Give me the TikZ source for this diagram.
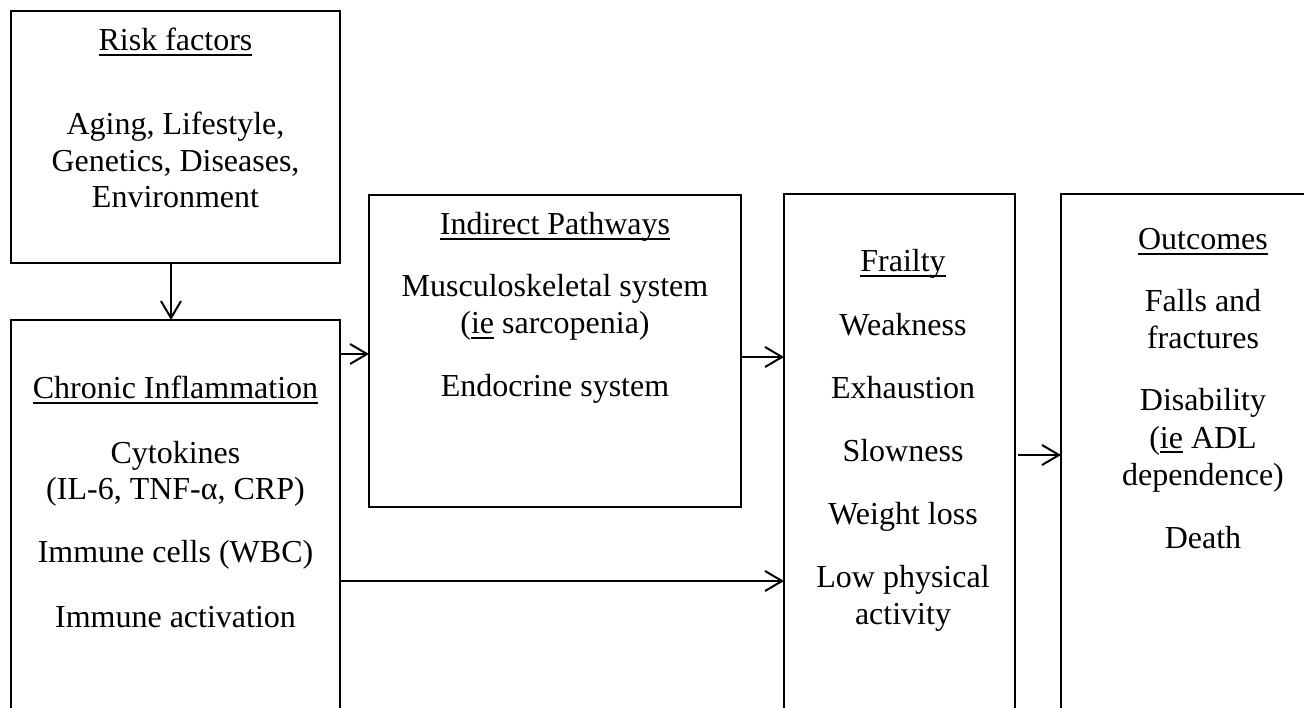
\documentclass[tikz,border=0pt]{standalone}
\usepackage{fontspec}
\setmainfont{Liberation Serif}
\usetikzlibrary{arrows.meta}
\newcommand\ulx[1]{\setbox0=\hbox{#1}\rlap{\rule[-5pt]{\wd0}{1.8pt}}\box0\relax}
\begin{document}
\begin{tikzpicture}[x=1pt,y=-1pt,
  box/.style={draw, line width=1.5pt, rectangle, outer sep=0pt, inner sep=0pt, anchor=north west},
  txt/.style={anchor=base, inner sep=0pt, font=\fontsize{32}{36.8}\selectfont},
  arr/.style={line width=2pt, -{Straight Barb[length=17pt,width=20pt]}}]
\useasboundingbox (0,0) rectangle (1304,708);
\clip (0,0) rectangle (1304,708);
% boxes
\node[box, minimum width=329pt, minimum height=252pt] (risk) at (11,11) {};
\node[box, minimum width=329pt, minimum height=420pt] (chronic) at (11,320) {};
\node[box, minimum width=372pt, minimum height=312pt] (indirect) at (369,195) {};
\node[box, minimum width=231pt, minimum height=540pt] (frailty) at (784,194) {};
\node[box, minimum width=285pt, minimum height=540pt] (outcomes) at (1061,194) {};
% risk texts
\node[txt] (r0) at (175.5,51) {\ulx{Risk factors}};
\node[txt] (r1) at (175.5,135) {Aging, Lifestyle,};
\node[txt] (r2) at (175.5,171.5) {Genetics, Diseases,};
\node[txt] (r3) at (175.5,208) {Environment};
% chronic texts
\node[txt] (c0) at (175.5,399) {\ulx{Chronic Inflammation}};
\node[txt] (c1) at (175.5,463) {Cytokines};
\node[txt] (c2) at (175.5,499.5) {(IL-6, TNF-α, CRP)};
\node[txt] (c3) at (175.5,562) {Immune cells (WBC)};
\node[txt] (c4) at (175.5,627) {Immune activation};
% indirect texts
\node[txt] (i0) at (555,235) {\ulx{Indirect Pathways}};
\node[txt] (i1) at (555,297) {Musculoskeletal system};
\node[txt] (i2) at (555,334) {(\ulx{ie} sarcopenia)};
\node[txt] (i3) at (555,397) {Endocrine system};
% frailty texts
\node[txt] (f0) at (903,272) {\ulx{Frailty}};
\node[txt] (f1) at (903,336) {Weakness};
\node[txt] (f2) at (903,398.5) {Exhaustion};
\node[txt] (f3) at (903,461) {Slowness};
\node[txt] (f4) at (903,524) {Weight loss};
\node[txt] (f5) at (903,587) {Low physical};
\node[txt] (f6) at (903,624) {activity};
% outcomes texts
\node[txt] (o0) at (1203,250) {\ulx{Outcomes}};
\node[txt] (o1) at (1203,312) {Falls and};
\node[txt] (o2) at (1203,348.5) {fractures};
\node[txt] (o3) at (1203,411) {Disability};
\node[txt] (o4) at (1203,448) {(\ulx{ie} ADL};
\node[txt] (o5) at (1203,485) {dependence)};
\node[txt] (o6) at (1203,548) {Death};
% arrows
\draw[arr] ([xshift=-4.5pt]risk.south) -- ([xshift=-4.5pt]chronic.north);
\draw[arr] (chronic.east |- 0,354) -- (indirect.west |- 0,354);
\draw[arr] (indirect.east |- 0,357) -- (frailty.west |- 0,357);
\draw[arr] (chronic.east |- 0,581) -- (frailty.west |- 0,581);
\draw[arr, shorten <=3pt] (frailty.east |- 0,455) -- (outcomes.west |- 0,455);
\end{tikzpicture}
\end{document}
